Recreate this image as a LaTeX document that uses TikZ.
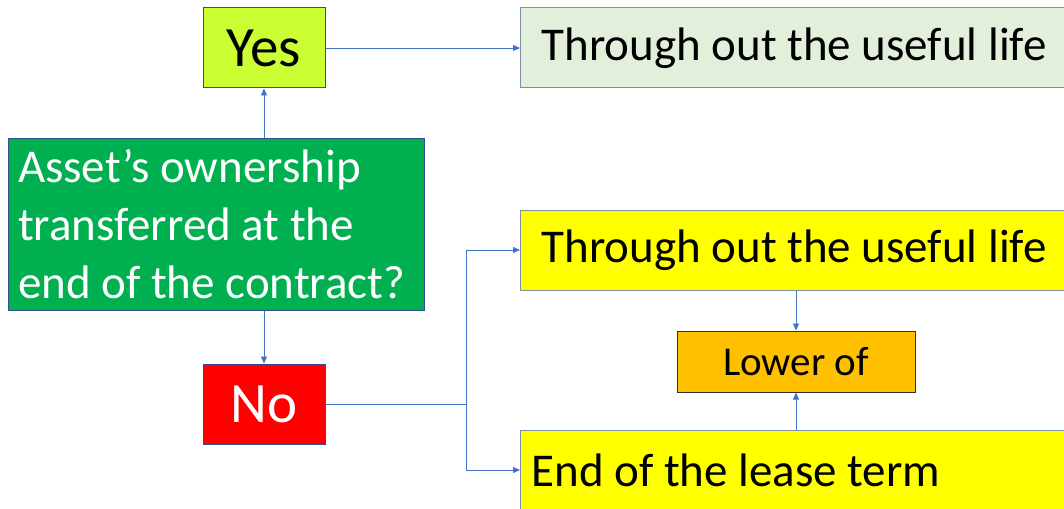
\documentclass[tikz,border=0pt]{standalone}
\usepackage{fontspec}
\setmainfont{Carlito}
\usetikzlibrary{arrows.meta,calc}

\definecolor{lime}{HTML}{CCFF33}
\definecolor{palegreen}{HTML}{E2EFDA}
\definecolor{boxgreen}{HTML}{00B050}
\definecolor{boxred}{HTML}{FF0000}
\definecolor{boxyellow}{HTML}{FFFF00}
\definecolor{boxorange}{HTML}{FFC000}
\definecolor{edgeblue}{HTML}{2F528F}
\definecolor{edgegray}{HTML}{7F8FA9}
\definecolor{linkblue}{HTML}{4472C4}

\tikzset{
  box/.style={draw=edgeblue, line width=1pt, inner sep=0pt},
  bigtxt/.style={font=\fontsize{57pt}{60pt}\selectfont},
  midtxt/.style={font=\fontsize{47pt}{58pt}\selectfont},
  widebox/.style={box, draw=edgegray, anchor=west, minimum height=80pt,
    text width=518pt, inner xsep=21pt, align=flush left, midtxt},
  arr/.style={draw=linkblue, line width=0.9pt,
    -{Triangle[length=7pt,width=6pt]}},
  link/.style={draw=linkblue, line width=0.9pt}
}

\begin{document}
\begin{tikzpicture}[x=1pt,y=-1pt]
\useasboundingbox (0,0) rectangle (1064,508);
\clip (0,0) rectangle (1064,508);

% decision and its two answers
\node[box, fill=boxgreen, text=white, minimum width=416pt, minimum height=172pt,
      text width=396pt, inner xsep=10pt, align=flush left, midtxt]
      (q) at (216,224) {Asset’s ownership\\transferred at the\\end of the contract?};
\node[box, fill=lime, minimum width=122pt, minimum height=80pt, bigtxt]
      (yes) at (264,48) {Yes};
\node[box, fill=boxred, text=white, minimum width=122pt, minimum height=80pt, bigtxt]
      (no) at (264,404) {No};

% outcomes
\node[widebox, fill=palegreen] (life1) at (520,48) {Through out the useful life};
\node[widebox, fill=boxyellow] (life2) at (520,250) {Through out the useful life};
\node[widebox, fill=boxyellow, inner xsep=11pt, text width=538pt] (lease) at (520,470) {End of the lease term};
\node[box, draw=black!80, fill=boxorange, minimum width=238pt, minimum height=61pt,
      font=\fontsize{41pt}{48pt}\selectfont] (lower) at (796,361.5) {Lower of};

% connectors
\coordinate (split) at (466,404);
\draw[arr] (q.north -| yes.south) -- (yes.south);
\draw[arr] (q.south -| no.north) -- (no.north);
\draw[arr] (yes.east) -- (life1.west);
\draw[link] (no.east) -- (split);
\draw[arr] (split) |- (life2.west);
\draw[arr] (split) |- (lease.west);
\draw[arr] (life2.south -| lower.north) -- (lower.north);
\draw[arr] (lease.north -| lower.south) -- (lower.south);
\end{tikzpicture}
\end{document}
